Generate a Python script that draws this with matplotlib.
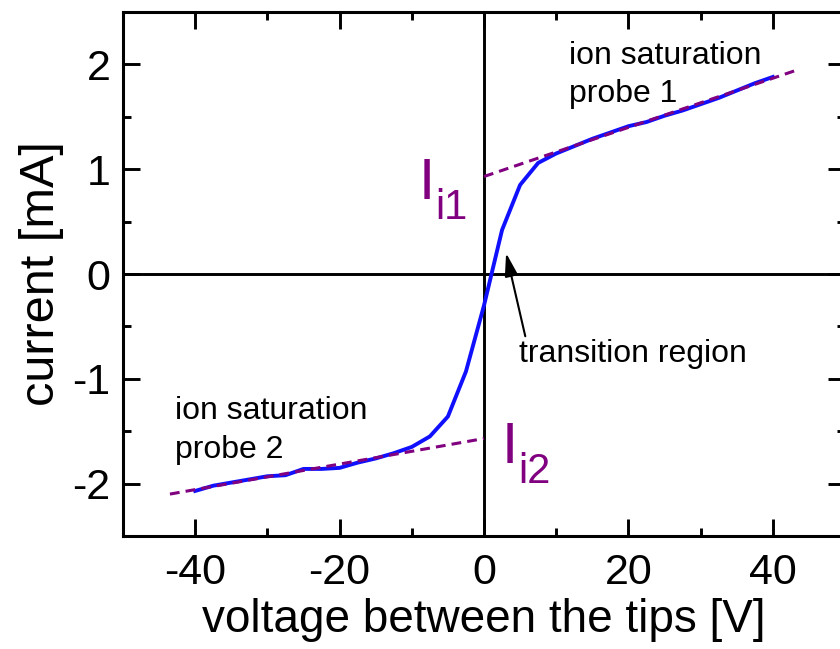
import matplotlib
matplotlib.use('Agg')
import matplotlib.pyplot as plt
from matplotlib.ticker import MultipleLocator

plt.rcParams['font.family'] = ['Liberation Sans', 'DejaVu Sans']
plt.rcParams['axes.unicode_minus'] = False

# I-V characteristic of the double probe
voltage = [-40, -37.5, -35, -32.5, -30, -27.5, -25, -22.5, -20, -17.5, -15,
           -12.5, -10, -7.5, -5, -2.5, 0, 2.5, 5, 7.5, 10, 12.5, 15, 17.5,
           20, 22.5, 25, 27.5, 30, 32.5, 35, 37.5, 40]
current = [-2.07, -2.02, -1.99, -1.96, -1.93, -1.92, -1.86, -1.86, -1.85,
           -1.80, -1.76, -1.71, -1.65, -1.55, -1.36, -0.93, -0.30, 0.42,
           0.85, 1.06, 1.15, 1.22, 1.29, 1.35, 1.41, 1.45, 1.51, 1.56, 1.62,
           1.68, 1.75, 1.82, 1.88]

# linear fits of the two ion saturation branches
fit1_v = [0, 43.5]
fit1_i = [0.93, 1.95]
fit2_v = [-43.5, 0]
fit2_i = [-2.10, -1.57]

xticks = [-40, -20, 0, 20, 40]
yticks = [-2, -1, 0, 1, 2]

purple = '#800080'

fig = plt.figure(figsize=(8.4, 6.49), dpi=100)
ax = fig.add_axes([123 / 840, 113 / 649, 722 / 840, 524 / 649])

ax.axhline(0, color='black', lw=2.1, zorder=1)
ax.axvline(0, color='black', lw=2.1, zorder=1)

ax.plot(voltage, current, color='#1010ff', lw=2.8, zorder=3)
ax.plot(fit1_v, fit1_i, color=purple, lw=2.2, ls=(0, (3.2, 2.0)), zorder=4)
ax.plot(fit2_v, fit2_i, color=purple, lw=2.2, ls=(0, (3.2, 2.0)), zorder=4)

ax.set_xlim(-50, 50)
ax.set_ylim(-2.5, 2.5)
ax.set_xticks(xticks)
ax.set_yticks(yticks)
ax.xaxis.set_minor_locator(MultipleLocator(10))
ax.yaxis.set_minor_locator(MultipleLocator(0.5))
ax.tick_params(which='both', direction='in', top=True, right=True, width=2.1)
ax.tick_params(which='major', length=12, labelsize=31)
ax.tick_params(which='minor', length=6)
ax.tick_params(axis='x', pad=12)
ax.tick_params(axis='y', pad=9)
for sp in ax.spines.values():
    sp.set_linewidth(2.2)

ax.set_xlabel('voltage between the tips [V]', fontsize=33, labelpad=4)
ax.set_ylabel('current [mA]', fontsize=35, labelpad=6)

ax.text(11.8, 2.005, 'ion saturation', fontsize=23, va='baseline')
ax.text(11.8, 1.637, 'probe 1', fontsize=23, va='baseline')
ax.text(-42.8, -1.385, 'ion saturation', fontsize=23, va='baseline')
ax.text(-42.8, -1.758, 'probe 2', fontsize=23, va='baseline')

ax.annotate('transition region', xy=(3.06, 0.20), xytext=(4.86, -0.84),
            fontsize=23, va='baseline',
            arrowprops=dict(arrowstyle='-|>,head_length=0.7,head_width=0.2',
                            color='black', lw=1.5, mutation_scale=20,
                            shrinkA=0, shrinkB=0, relpos=(0.03, 1.0)))

# current intercepts of the fitted lines, I with a lowered subscript
ax.text(-6.8, 0.716, 'I', fontsize=42, color=purple, ha='right',
        va='baseline')
ax.text(-6.75, 0.526, 'i1', fontsize=30, color=purple, va='baseline')
ax.text(4.7, -1.806, 'I', fontsize=42, color=purple, ha='right',
        va='baseline')
ax.text(4.75, -1.995, 'i2', fontsize=30, color=purple, va='baseline')

fig.savefig('out.png', dpi=100)
